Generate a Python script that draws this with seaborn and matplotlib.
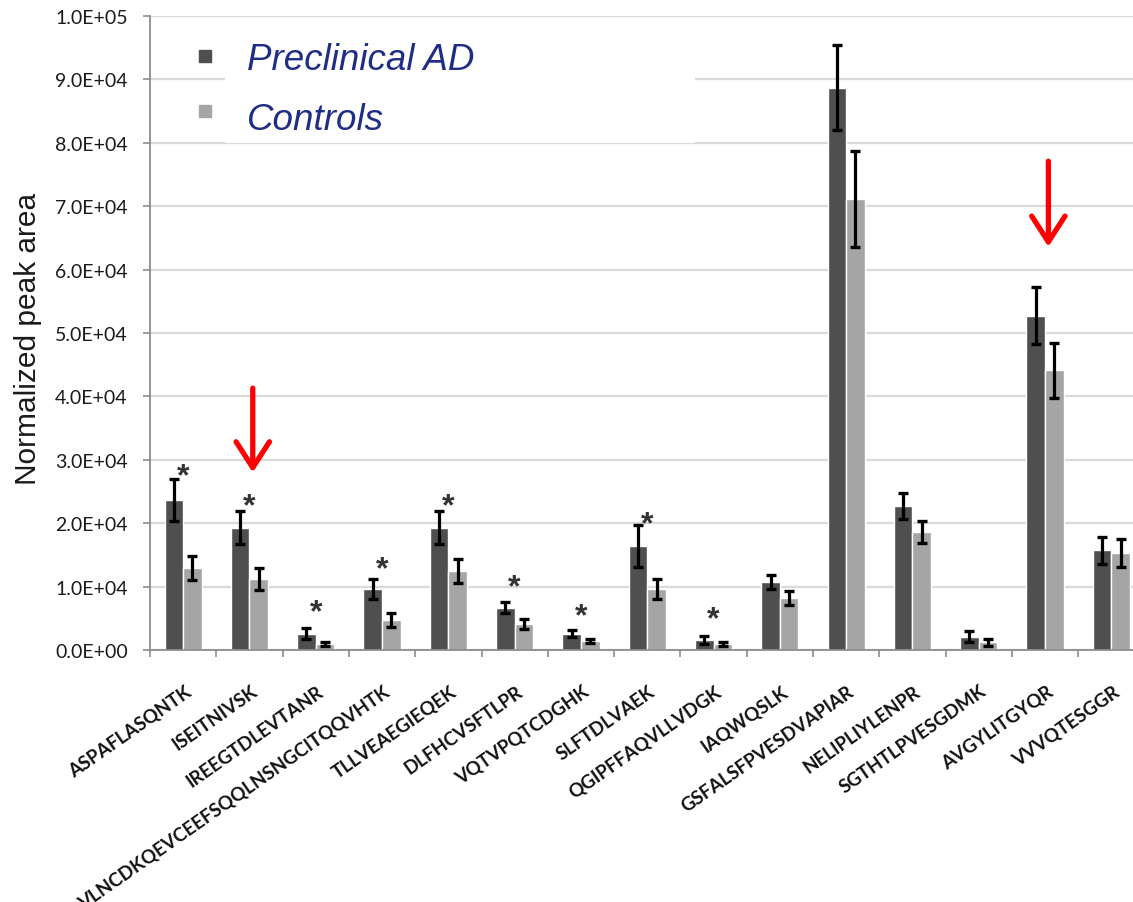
import os
import numpy as np
import pandas as pd
import matplotlib
matplotlib.use("Agg")
import matplotlib.pyplot as plt
from matplotlib import font_manager as fm
from matplotlib.patches import Rectangle
from matplotlib.transforms import ScaledTranslation
import seaborn as sns

# ---------------- data ----------------
peptides = ["ASPAFLASQNTK", "ISEITNIVSK", "IREEGTDLEVTANR",
            "VLNCDKQEVCEEFSQQLNSNGCITQQVHTK", "TLLVEAEGIEQEK", "DLFHCVSFTLPR",
            "VQTVPQTCDGHK", "SLFTDLVAEK", "QGIPFFAQVLLVDGK", "IAQWQSLK",
            "GSFALSFPVESDVAPIAR", "NELIPLIYLENPR", "SGTHTLPVESGDMK",
            "AVGYLITGYQR", "VVVQTESGGR"]
groups = ["Preclinical AD", "Controls"]
means_ad = [23700, 19300, 2600, 9600, 19300, 6700, 2600, 16400, 1600, 10800,
            88700, 22700, 2100, 52700, 15700]
err_ad = [3300, 2600, 900, 1600, 2600, 900, 600, 3300, 600, 1100,
          6700, 2000, 900, 4500, 2100]
means_ctrl = [13000, 11200, 900, 4800, 12500, 4100, 1400, 9600, 900, 8200,
              71100, 18600, 1200, 44100, 15300]
err_ctrl = [1900, 1700, 300, 1100, 1900, 800, 300, 1600, 300, 1100,
            7600, 1800, 500, 4400, 2200]
star_groups = [0, 1, 2, 3, 4, 5, 6, 7, 8]
star_levels = [28900, 24200, 7500, 14200, 24200, 11400, 6900, 21300, 6300]
arrow_groups = [1, 13]
arrow_tips = [28000, 63600]
arrow_tails = [41300, 77100]
yticks = np.arange(0, 100001, 10000)

# ---------------- style ----------------
dark = "#4f4f4f"
light = "#a5a5a5"
navy = "#1F2D86"
sns.set_style("white")
plt.rcParams["font.family"] = ["Lato", "DejaVu Sans"]


def find_font(prefs, size):
    """prefs: list of (family, basename-keyword) tried in order; upright only."""
    for fam, key in prefs:
        for f in fm.fontManager.ttflist:
            base = os.path.basename(f.fname).lower()
            if f.name != fam or "italic" in base or f.style != "normal":
                continue
            stem = os.path.splitext(base)[0]
            if stem.endswith(key):
                return fm.FontProperties(fname=f.fname, size=size)
    return fm.FontProperties(family="DejaVu Sans", weight="bold", size=size)


xlab_font = find_font([("Lato", "-bold"), ("Open Sans", "-bold")], 13.5)
ytick_font = find_font([("Lato", "-regular")], 14)

df = pd.DataFrame({
    "peptide": peptides * 2,
    "group": [groups[0]] * len(peptides) + [groups[1]] * len(peptides),
    "value": means_ad + means_ctrl,
})

fig = plt.figure(figsize=(11.33, 9.03), dpi=100)
ax = fig.add_axes([150 / 1133, (903 - 651) / 903, 994.5 / 1133, 634 / 903])

sns.barplot(data=df, x="peptide", y="value", hue="group", order=peptides,
            hue_order=groups, palette=[dark, light], width=0.56,
            errorbar=None, saturation=1, legend=False, ax=ax, zorder=2)

for cont, m, e in zip(ax.containers, [means_ad, means_ctrl], [err_ad, err_ctrl]):
    xs = [p.get_x() + p.get_width() / 2 for p in cont]
    ax.errorbar(xs, m, yerr=e, fmt="none", ecolor="black", elinewidth=2.3,
                capsize=3.8, capthick=2.4, zorder=3)

ax.set_xlim(-0.5, len(peptides) - 0.5)
ax.set_ylim(0, 100000)

# y axis
ax.set_yticks(yticks)
ax.set_yticklabels(["%.1E" % v for v in yticks], fontproperties=ytick_font,
                   color="#1a1a1a")
ax.tick_params(axis="y", length=5, width=1.2, color="#8c8c8c", pad=11,
               direction="out", left=True)
ax.yaxis.grid(True, color="#d9d9d9", lw=1.6)
ax.set_axisbelow(True)
ax.set_ylabel("Normalized peak area", fontsize=21.5, family="Liberation Sans",
              color="#1a1a1a")
ax.yaxis.set_label_coords(-0.109, 0.492)

# x axis
ax.set_xlabel("")
ax.set_xticks(range(len(peptides)))
ax.set_xticks(np.arange(-0.5, len(peptides), 1), minor=True)
ax.tick_params(axis="x", which="major", length=0, pad=28)
ax.tick_params(axis="x", which="minor", length=5, width=1.2, color="#8c8c8c",
               direction="out", bottom=True)
ax.set_xticklabels(peptides, rotation=35, ha="right", va="center",
                   rotation_mode="anchor", fontproperties=xlab_font,
                   color="#111111")
for lab in ax.get_xticklabels():
    lab.set_transform(lab.get_transform() +
                      ScaledTranslation(6 / 100, 0, fig.dpi_scale_trans))

for s in ["top", "right"]:
    ax.spines[s].set_visible(False)
for s in ["left", "bottom"]:
    ax.spines[s].set_color("#8c8c8c")
    ax.spines[s].set_linewidth(1.3)

# significance stars
for g, lv in zip(star_groups, star_levels):
    ax.annotate("*", xy=(g, lv), xytext=(0, -12.6), textcoords="offset points",
                ha="center", va="baseline", fontsize=23, fontweight="bold",
                family="Liberation Sans", color="#333333", zorder=4)

# red arrows
for g, tip, tail in zip(arrow_groups, arrow_tips, arrow_tails):
    ax.annotate("", xy=(g + 0.05, tip), xytext=(g + 0.05, tail),
                arrowprops=dict(arrowstyle="->,head_length=0.62,head_width=0.4",
                                color="#ff0000", lw=3.8, shrinkA=0, shrinkB=0,
                                mutation_scale=30), zorder=5)

# legend (manual, Excel-like)
ax.add_patch(Rectangle((0.0754, 0.80), 0.473, 0.19, transform=ax.transAxes,
                       facecolor="white", edgecolor="none", zorder=1.5))
leg_y_marker = [0.937, 0.850]
leg_y_text = [0.9164, 0.8218]
for name, col, ym, yt in zip(groups, [dark, light], leg_y_marker, leg_y_text):
    ax.plot([0.0553], [ym], marker="s", markersize=8.5, color=col,
            transform=ax.transAxes, clip_on=False, zorder=6)
    ax.text(0.0975, yt, name, transform=ax.transAxes, fontsize=26.5,
            style="italic", color=navy, family="Liberation Sans",
            va="baseline", ha="left", zorder=6)

fig.savefig("out.png", dpi=100)
